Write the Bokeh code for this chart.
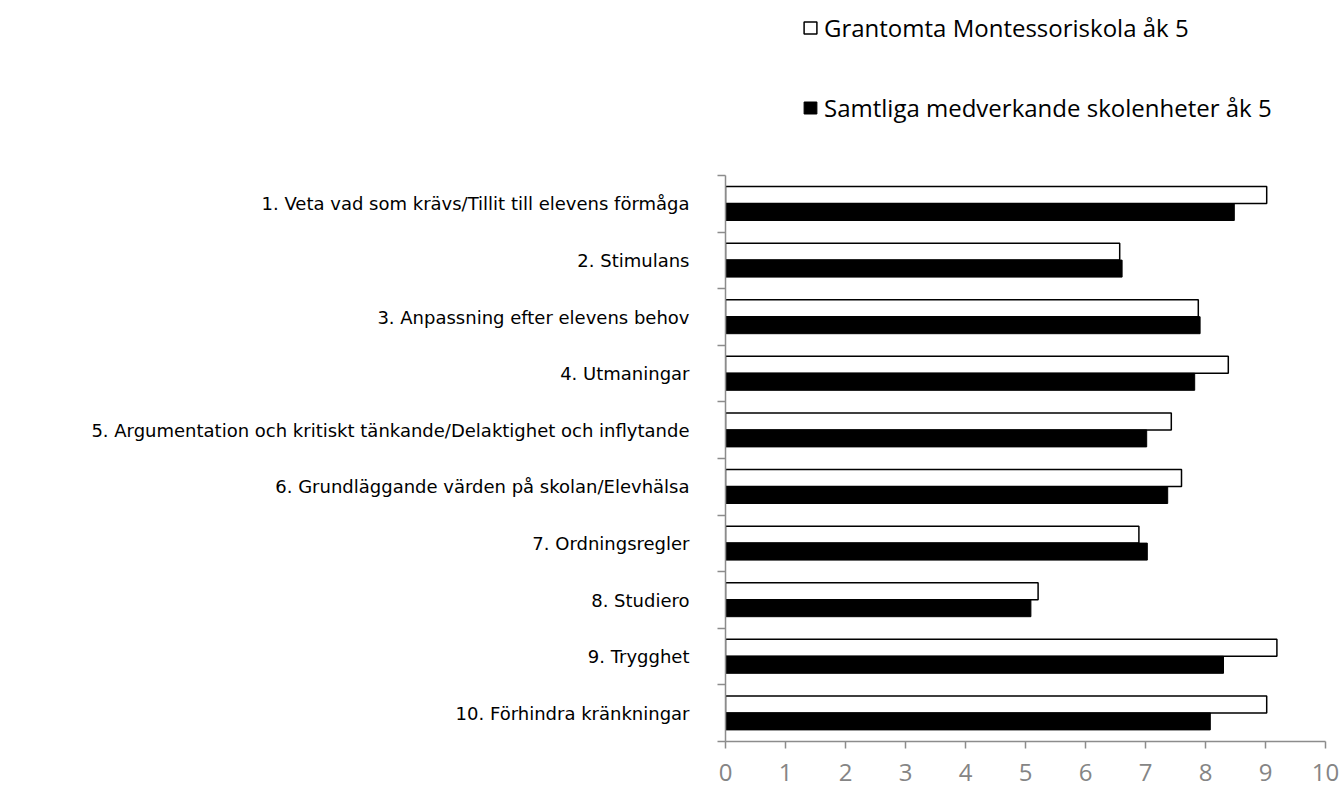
from bokeh.plotting import figure
from bokeh.layouts import column
from bokeh.models import ColumnDataSource, FixedTicker, Legend, LegendItem, Range1d
from bokeh.transform import dodge
from bokeh.embed import file_html
from bokeh.resources import INLINE

categories = [
    "1. Veta vad som krävs/Tillit till elevens förmåga",
    "2. Stimulans",
    "3. Anpassning efter elevens behov",
    "4. Utmaningar",
    "5. Argumentation och kritiskt tänkande/Delaktighet och inflytande",
    "6. Grundläggande värden på skolan/Elevhälsa",
    "7. Ordningsregler",
    "8. Studiero",
    "9. Trygghet",
    "10. Förhindra kränkningar",
]
grantomta = [9.02, 6.57, 7.88, 8.38, 7.43, 7.60, 6.89, 5.21, 9.19, 9.02]
samtliga = [8.48, 6.61, 7.91, 7.82, 7.02, 7.37, 7.03, 5.09, 8.30, 8.08]
x_ticks = [0, 1, 2, 3, 4, 5, 6, 7, 8, 9, 10]
series_names = ["Grantomta Montessoriskola åk 5", "Samtliga medverkande skolenheter åk 5"]

W = 1339
LEG_H = 130
LEFT = 725

n = len(categories)
ypos = [n - i - 0.5 for i in range(n)]
src = ColumnDataSource(dict(y=ypos, g=grantomta, s=samtliga, cat=categories))

# ---------- legend strip (hidden bars; only the legend is shown) ----------
lf = figure(width=W, height=LEG_H, output_backend="svg", toolbar_location=None,
            x_range=Range1d(0, 10), y_range=Range1d(0, n),
            min_border_left=LEFT, min_border_right=14,
            min_border_top=0, min_border_bottom=0)
lf.axis.visible = False
lf.grid.grid_line_color = None
lf.outline_line_color = None
lw = lf.hbar(y="y", right="g", left=0, height=0.3, source=src,
             fill_color="white", line_color="black", line_width=1.5)
lb = lf.hbar(y="y", right="s", left=0, height=0.3, source=src,
             fill_color="black", line_color="black", line_width=1)
lw.visible = False
lb.visible = False
legend = Legend(items=[LegendItem(label=series_names[0], renderers=[lw]),
                       LegendItem(label=series_names[1], renderers=[lb])],
                location=(802 - LEFT, 6), orientation="vertical",
                label_text_font="Open Sans", label_text_font_size="24px",
                label_text_color="black", glyph_width=16, glyph_height=15,
                spacing=47, padding=0, margin=0, label_standoff=6,
                border_line_color=None, background_fill_alpha=0,
                inactive_fill_alpha=0, click_policy="none")
lf.add_layout(legend, "center")

# ---------- main chart ----------
p = figure(width=W, height=790 - LEG_H, output_backend="svg", toolbar_location=None,
           x_range=Range1d(0, 10), y_range=Range1d(0, n),
           min_border_left=LEFT, min_border_right=14, min_border_top=45, min_border_bottom=49)
p.outline_line_color = None
p.grid.grid_line_color = None

p.hbar(y=dodge("y", 0.155, range=p.y_range), right="g", left=0, height=0.3, source=src,
       fill_color="white", line_color="black", line_width=1.5)
p.hbar(y=dodge("y", -0.145, range=p.y_range), right="s", left=0, height=0.3, source=src,
       fill_color="black", line_color="black", line_width=1)

# x axis
p.xaxis.ticker = FixedTicker(ticks=x_ticks)
p.xaxis.axis_line_color = "#8c8c8c"
p.xaxis.axis_line_width = 1.5
p.xaxis.major_tick_line_color = "#8c8c8c"
p.xaxis.major_tick_line_width = 1.5
p.xaxis.major_tick_in = 0
p.xaxis.major_tick_out = 7
p.xaxis.minor_tick_line_color = None
p.xaxis.major_label_text_color = "#858585"
p.xaxis.major_label_text_font = "Open Sans"
p.xaxis.major_label_text_font_size = "24px"
p.xaxis.major_label_standoff = 15

# y axis
p.yaxis.ticker = FixedTicker(ticks=ypos, minor_ticks=list(range(n + 1)))
p.yaxis.major_label_overrides = {y: c for y, c in zip(ypos, categories)}
p.yaxis.axis_line_color = "#8c8c8c"
p.yaxis.axis_line_width = 1.5
p.yaxis.major_tick_line_color = None
p.yaxis.minor_tick_line_color = "#8c8c8c"
p.yaxis.minor_tick_line_width = 1.5
p.yaxis.minor_tick_in = 0
p.yaxis.minor_tick_out = 8
p.yaxis.major_label_text_color = "black"
p.yaxis.major_label_text_font = "DejaVu Sans"
p.yaxis.major_label_text_font_size = "18px"
p.yaxis.major_label_standoff = 28

layout = column(lf, p, spacing=0)
open("out.html", "w").write(file_html(layout, INLINE))
